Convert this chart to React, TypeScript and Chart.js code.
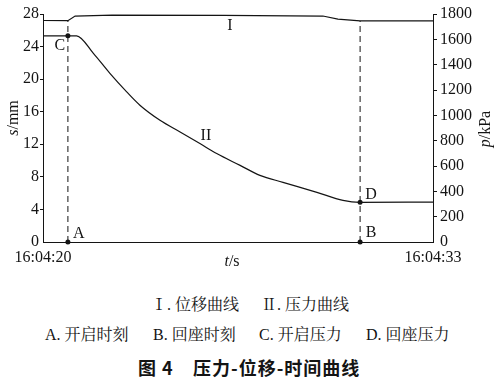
import React, { useEffect, useRef } from 'react';
import { Chart, registerables } from 'chart.js';
Chart.register(...registerables);

// ---- data ----
const timeTickLabels = ['16:04:20', '16:04:33'];
const timeMin = 0;
const timeMax = 13;
// Curve I: displacement s (mm) vs t (s)
const dispTime = [0, 0.83, 1.07, 2.3, 6.0, 9.33, 9.83, 10.57, 13];
const dispValue = [27.2, 27.18, 27.75, 27.85, 27.84, 27.75, 27.38, 27.15, 27.15];
// Curve II: pressure p (kPa) vs t (s)
const presTime = [0, 1.12, 1.68, 2.23, 2.79, 3.23, 3.9, 4.57, 5.23, 5.79, 6.57, 7.23, 8.0, 9.13, 10.0, 10.57, 13];
const presValue = [1628, 1628, 1489, 1331, 1185, 1080, 961, 869, 777, 698, 605, 526, 471, 392, 328, 313, 315];
// Events: A/B (opening / reseating times), C/D (opening / reseating pressure)
const eventTime = [0.83, 10.57];
const eventDisp = [27.18, 27.15];
const eventPressure = [1628, 313];
const sMax = 28;
const sStep = 4;
const pMax = 1800;
const pStep = 200;
const curveLabels = ['I', 'II'];
const curveLabelAt = [
  { x: 6.23, y: 26.6 },
  { x: 5.43, y: 835 },
];
const pointLetters = ['A', 'B', 'C', 'D'];

const SERIF = "'Liberation Serif', 'Times New Roman', serif";
const CJK = "'Liberation Serif', 'Noto Serif CJK SC', serif";
const INK = '#141414';

const textPlugin = {
  id: 'annot',
  afterDatasetsDraw(chart: any) {
    const { ctx, scales } = chart;
    const x = scales.x, s = scales.s, p = scales.p;
    const ca = chart.chartArea;
    ctx.save();
    ctx.fillStyle = INK;
    ctx.textAlign = 'center';
    ctx.textBaseline = 'middle';
    ctx.font = `16px ${SERIF}`;
    ctx.fillText(pointLetters[0], x.getPixelForValue(eventTime[0]) + 11, s.getPixelForValue(0) - 8);
    ctx.fillText(pointLetters[1], x.getPixelForValue(eventTime[1]) + 11, s.getPixelForValue(0) - 9);
    ctx.fillText(pointLetters[2], x.getPixelForValue(eventTime[0]) - 8, p.getPixelForValue(eventPressure[0]) + 10);
    ctx.fillText(pointLetters[3], x.getPixelForValue(eventTime[1]) + 11, p.getPixelForValue(eventPressure[1]) - 8);
    ctx.fillText(curveLabels[0], x.getPixelForValue(curveLabelAt[0].x), s.getPixelForValue(curveLabelAt[0].y));
    ctx.fillText(curveLabels[1], x.getPixelForValue(curveLabelAt[1].x), p.getPixelForValue(curveLabelAt[1].y));

    const drawTitle = (cx: number, cy: number, v: string, unit: string, rot: number) => {
      ctx.save();
      ctx.translate(cx, cy);
      ctx.rotate(rot);
      ctx.font = `italic 16px ${SERIF}`;
      const w1 = ctx.measureText(v).width;
      ctx.font = `16px ${SERIF}`;
      const w2 = ctx.measureText(unit).width;
      const start = -(w1 + w2) / 2;
      ctx.textAlign = 'left';
      ctx.font = `italic 16px ${SERIF}`;
      ctx.fillText(v, start, 0);
      ctx.font = `16px ${SERIF}`;
      ctx.fillText(unit, start + w1, 0);
      ctx.restore();
    };
    drawTitle(ca.left - 29, ca.top + 104, 's', '/mm', -Math.PI / 2);
    drawTitle(ca.right + 53, ca.top + 115, 'p', '/kPa', -Math.PI / 2);
    drawTitle(ca.left + 189, ca.bottom + 20, 't', '/s', 0);
    ctx.restore();
  },
};

const tickColor = (c: any) => (c.tick && c.tick.value === 0 ? 'rgba(0,0,0,0)' : INK);

export default function App() {
  const ref = useRef<HTMLCanvasElement | null>(null);
  useEffect(() => {
    if (!ref.current) return;
    const dispData = dispTime.map((t, i) => ({ x: t, y: dispValue[i] }));
    const presData = presTime.map((t, i) => ({ x: t, y: presValue[i] }));
    const chart = new Chart(ref.current, {
      type: 'line',
      data: {
        datasets: [
          { data: dispData, yAxisID: 's', borderColor: INK, borderWidth: 1.2, pointRadius: 0, tension: 0 },
          { data: presData, yAxisID: 'p', borderColor: INK, borderWidth: 1.2, pointRadius: 0, cubicInterpolationMode: 'monotone' },
          {
            data: [{ x: eventTime[0], y: 0 }, { x: eventTime[0], y: eventDisp[0] }],
            yAxisID: 's', borderColor: INK, borderWidth: 1, borderDash: [6, 4], pointRadius: 0,
          },
          {
            data: [{ x: eventTime[1], y: 0 }, { x: eventTime[1], y: eventDisp[1] }],
            yAxisID: 's', borderColor: INK, borderWidth: 1, borderDash: [6, 4], pointRadius: 0,
          },
          {
            data: eventTime.map((t) => ({ x: t, y: 0 })),
            yAxisID: 's', showLine: false, pointRadius: 2.5, pointBackgroundColor: INK, pointBorderWidth: 0, clip: false,
          },
          {
            data: eventTime.map((t, i) => ({ x: t, y: eventPressure[i] })),
            yAxisID: 'p', showLine: false, pointRadius: 2.5, pointBackgroundColor: INK, pointBorderWidth: 0, clip: false,
          },
        ] as any,
      },
      options: {
        responsive: false,
        animation: false,
        devicePixelRatio: 1,
        layout: { padding: { top: 14, left: 0, right: 0, bottom: 0 } },
        plugins: { legend: { display: false }, tooltip: { enabled: false } },
        scales: {
          x: {
            type: 'linear',
            min: timeMin,
            max: timeMax,
            afterFit: (sc: any) => { sc.height = 34; },
            afterBuildTicks: (sc: any) => { sc.ticks = [{ value: timeMin }, { value: timeMax }]; },
            grid: { display: false, drawTicks: false },
            border: { display: true, color: INK, width: 1 },
            ticks: {
              font: { family: SERIF, size: 16 },
              color: INK,
              padding: 6,
              maxRotation: 0,
              autoSkip: false,
              callback: (v: any) => (v === timeMin ? timeTickLabels[0] : v === timeMax ? timeTickLabels[1] : ''),
            },
          },
          s: {
            type: 'linear',
            position: 'left',
            min: 0,
            max: sMax,
            afterFit: (sc: any) => { sc.width = 43; },
            grid: { display: true, drawOnChartArea: false, drawTicks: true, tickLength: 3, color: tickColor },
            border: { display: true, color: INK, width: 1 },
            ticks: {
              stepSize: sStep, includeBounds: false, font: { family: SERIF, size: 16 }, color: INK, padding: 1,
              callback: (v: any) => String(v),
            },
          },
          p: {
            type: 'linear',
            position: 'right',
            min: 0,
            max: pMax,
            afterFit: (sc: any) => { sc.width = 64; },
            grid: { display: true, drawOnChartArea: false, drawTicks: true, tickLength: 4, color: tickColor },
            border: { display: true, color: INK, width: 1 },
            ticks: {
              stepSize: pStep, includeBounds: false, font: { family: SERIF, size: 16 }, color: INK, padding: 3,
              callback: (v: any) => String(v),
            },
          },
        },
      } as any,
      plugins: [textPlugin],
    });
    return () => chart.destroy();
  }, []);

  const item = (left: number, top: number, text: string, extra: React.CSSProperties = {}) => (
    <div
      style={{
        position: 'absolute',
        left,
        top,
        whiteSpace: 'pre',
        fontFamily: CJK,
        fontSize: 16,
        lineHeight: '20px',
        color: INK,
        ...extra,
      }}
    >
      {text}
    </div>
  );

  const bold: React.CSSProperties = {
    fontFamily: "'Noto Sans CJK SC', sans-serif",
    fontWeight: 700,
    fontSize: 18,
    letterSpacing: '1px',
  };

  return (
    <div style={{ position: 'absolute', left: 0, top: 0, width: 497, height: 390, background: '#fff', overflow: 'hidden' }}>
      <canvas ref={ref} width={497} height={276} style={{ position: 'absolute', left: 0, top: 0, width: 497, height: 276 }} />
      {item(151, 295, 'Ⅰ. 位移曲线')}
      {item(261, 295, 'Ⅱ. 压力曲线')}
      {item(45, 325, 'A. 开启时刻')}
      {item(153, 325, 'B. 回座时刻')}
      {item(259, 325, 'C. 开启压力')}
      {item(366, 325, 'D. 回座压力')}
      {item(138, 357, '图 4', bold)}
      {item(193, 357, '压力-位移-时间曲线', bold)}
    </div>
  );
}
